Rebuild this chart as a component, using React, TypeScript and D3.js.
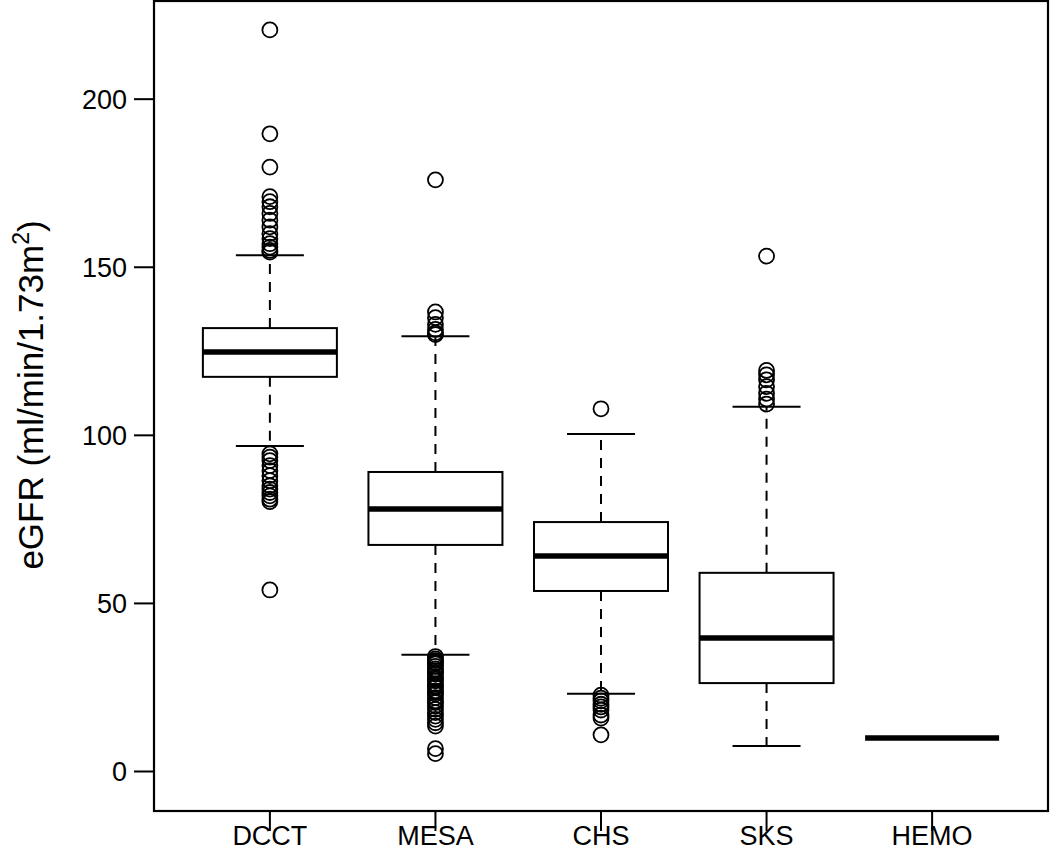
import * as d3 from 'd3';

const groups = ['DCCT', 'MESA', 'CHS', 'SKS', 'HEMO'];
const lowerWhisker = [96.8, 34.7, 23.1, 7.6, 10];
const q1 = [117.4, 67.4, 53.7, 26.3, 10];
const median = [124.8, 78.1, 64.1, 39.7, 10];
const q3 = [131.9, 89.1, 74.2, 59.1, 10];
const upperWhisker = [153.6, 129.5, 100.4, 108.5, 10];

const outDCCT = [220.6, 189.7, 179.8, 171, 169.5, 168, 166, 164, 162, 160, 158.5, 157, 156, 155, 154.5,
  94.5, 93.5, 92.5, 91, 89.5, 88, 86.5, 85, 84, 83, 82, 81, 80.3, 54];
const outMESA = [176, 136.7, 135, 133, 131.5, 130.5, 130,
  34.2, 33.5, 33, 32.5, 32, 31.3, 30.5, 30, 29.5, 29, 28, 27.5, 27, 26, 25.5, 25, 24, 23.5, 23, 22,
  21, 20.5, 19.5, 18.5, 17.5, 16.5, 15.5, 14.5, 13.5, 6.8, 5.3];
const outCHS = [107.9, 22.7, 21.8, 21, 20, 19.2, 18.3, 16.8, 15.9, 10.9];
const outSKS = [153.3, 119.3, 118, 116.5, 114.5, 112.5, 110.8, 109.3];
const outHEMO: number[] = [];
const outliers = [outDCCT, outMESA, outCHS, outSKS, outHEMO];

const yTicks = [0, 50, 100, 150, 200];

const W = 1050;
const H = 851;
const left = 154;
const right = 1048;
const top = 0;
const bottom = 811;

const App = () => {
  const x = d3.scaleLinear().domain([0.3, 5.7]).range([left, right]);
  const y = d3.scaleLinear().domain([-11.75, 229.5]).range([bottom, top]);
  const boxW = 134;
  const capW = 68;
  const font = 'Liberation Sans, Arial, Helvetica, sans-serif';

  return (
    <svg
      width={W}
      height={H}
      style={{ position: 'absolute', left: 0, top: 0, background: '#fff' }}
      fontFamily={font}
    >
      <rect x={0} y={0} width={W} height={H} fill="#fff" />
      {groups.map((g, i) => {
        const cx = x(i + 1);
        return (
          <g key={g}>
            {/* whiskers */}
            <line x1={cx} x2={cx} y1={y(q3[i])} y2={y(upperWhisker[i])} stroke="#000" strokeWidth={2} strokeDasharray="10,8" />
            <line x1={cx} x2={cx} y1={y(q1[i])} y2={y(lowerWhisker[i])} stroke="#000" strokeWidth={2} strokeDasharray="10,8" />
            <line x1={cx - capW / 2} x2={cx + capW / 2} y1={y(upperWhisker[i])} y2={y(upperWhisker[i])} stroke="#000" strokeWidth={2} />
            <line x1={cx - capW / 2} x2={cx + capW / 2} y1={y(lowerWhisker[i])} y2={y(lowerWhisker[i])} stroke="#000" strokeWidth={2} />
            {/* box */}
            <rect
              x={cx - boxW / 2}
              y={y(q3[i])}
              width={boxW}
              height={y(q1[i]) - y(q3[i])}
              fill="#fff"
              stroke="#000"
              strokeWidth={2}
            />
            <line x1={cx - boxW / 2} x2={cx + boxW / 2} y1={y(median[i])} y2={y(median[i])} stroke="#000" strokeWidth={5.5} />
            {/* outliers */}
            {outliers[i].map((v, j) => (
              <circle key={j} cx={cx} cy={y(v)} r={7.5} fill="none" stroke="#000" strokeWidth={1.8} />
            ))}
          </g>
        );
      })}

      {/* frame */}
      <rect x={left} y={top + 1} width={right - left} height={bottom - top - 1} fill="none" stroke="#000" strokeWidth={2.2} />

      {/* y axis */}
      {yTicks.map((t) => (
        <g key={t}>
          <line x1={left - 20} x2={left} y1={y(t)} y2={y(t)} stroke="#000" strokeWidth={2} />
          <text x={left - 27} y={y(t)} dy="0.36em" textAnchor="end" fontSize={27}>
            {t}
          </text>
        </g>
      ))}

      {/* x axis */}
      {groups.map((g, i) => (
        <g key={g}>
          <line x1={x(i + 1)} x2={x(i + 1)} y1={bottom} y2={bottom + 20} stroke="#000" strokeWidth={2} />
          <text x={x(i + 1)} y={845} textAnchor="middle" fontSize={27}>
            {g}
          </text>
        </g>
      ))}

      {/* y label */}
      <text transform={`translate(43, 395) rotate(-90)`} textAnchor="middle" fontSize={35}>
        eGFR (ml/min/1.73m
        <tspan dy={-14} fontSize={23}>2</tspan>
        <tspan dy={14}>)</tspan>
      </text>
    </svg>
  );
};

export default App;
